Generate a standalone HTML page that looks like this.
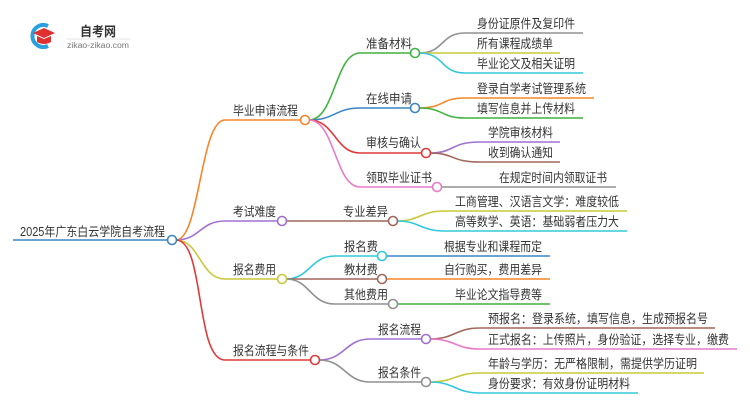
<!DOCTYPE html>
<html><head><meta charset="utf-8"><style>
html,body{margin:0;padding:0;background:#fff;width:750px;height:410px;overflow:hidden}
svg text{font-family:"Liberation Sans","Noto Sans CJK SC",sans-serif;font-size:12.5px;fill:#333}
</style></head><body>
<svg width="750" height="410" viewBox="0 0 750 410" xmlns="http://www.w3.org/2000/svg" fill="none" stroke-width="1.6">
<!-- logo -->
<g>
<path d="M48 26 A11 11 0 1 0 48 46" stroke="#2aa0e0" stroke-width="4" fill="none"/>
<path d="M33 33 L44 28 L55 33 L44 38 Z" fill="#e03030"/>
<path d="M37 36 L37 42 Q44 46 51 42 L51 36 L44 39 Z" fill="#e03030"/>
<text x="80" y="36" style="font-size:13px;font-weight:bold;fill:#333" textLength="36" lengthAdjust="spacingAndGlyphs">自考网</text>
<line x1="66" y1="39" x2="130" y2="39" stroke="#ddd" stroke-width="0.8"/>
<text x="67" y="48" style="font-size:8px;fill:#777" textLength="62" lengthAdjust="spacingAndGlyphs">zikao-zikao.com</text>
</g>

<!-- root -->
<line x1="13" y1="240" x2="167" y2="240" stroke="#3a85c6"/>
<text x="20" y="236" textLength="145" lengthAdjust="spacingAndGlyphs">2025年广东白云学院自考流程</text>

<!-- level1 curves -->
<path d="M176 240 C200 240,200 120,225 120 L300 120" stroke="#f5862a"/>
<path d="M176 240 C200 240,200 221,225 221 L277 221" stroke="#a070d0"/>
<path d="M176 240 C200 240,200 279,225 279 L277 279" stroke="#c8c83a"/>
<path d="M176 240 C205 240,195 360,225 360 L310 360" stroke="#e03a3a"/>
<text x="233" y="115" textLength="65" lengthAdjust="spacingAndGlyphs">毕业申请流程</text>
<text x="233" y="216" textLength="43" lengthAdjust="spacingAndGlyphs">考试难度</text>
<text x="233" y="274" textLength="43" lengthAdjust="spacingAndGlyphs">报名费用</text>
<text x="233" y="355" textLength="76" lengthAdjust="spacingAndGlyphs">报名流程与条件</text>

<!-- under 毕业申请流程 -->
<path d="M309 120 C335 120,335 53,360 53 L411 53" stroke="#3fb23f"/>
<path d="M309 120 C335 120,335 108,360 108 L411 108" stroke="#3a85c6"/>
<path d="M309 120 C335 120,335 153,360 153 L422 153" stroke="#e03a3a"/>
<path d="M309 120 C335 120,335 187,360 187 L433 187" stroke="#e87ac8"/>
<text x="366" y="48" textLength="46" lengthAdjust="spacingAndGlyphs">准备材料</text>
<text x="366" y="103" textLength="46" lengthAdjust="spacingAndGlyphs">在线申请</text>
<text x="366" y="147" textLength="55" lengthAdjust="spacingAndGlyphs">审核与确认</text>
<text x="366" y="182" textLength="66" lengthAdjust="spacingAndGlyphs">领取毕业证书</text>

<path d="M419 53 C445 53,440 33,465 33 L583 33" stroke="#909090"/>
<path d="M419 53 L560 53" stroke="#c8c83a"/>
<path d="M419 53 C445 53,440 73,465 73 L583 73" stroke="#30c8dc"/>
<path d="M419 108 C445 108,440 98,465 98 L594 98" stroke="#f5862a"/>
<path d="M419 108 C445 108,440 118,465 118 L583 118" stroke="#3fb23f"/>
<path d="M430 153 C455 153,450 142,480 142 L560 142" stroke="#a070d0"/>
<path d="M430 153 C455 153,450 162,480 162 L560 162" stroke="#a0665a"/>
<path d="M441 187 L616 187" stroke="#909090"/>
<text x="477" y="28" textLength="98" lengthAdjust="spacingAndGlyphs">身份证原件及复印件</text>
<text x="477" y="48" textLength="76" lengthAdjust="spacingAndGlyphs">所有课程成绩单</text>
<text x="477" y="68" textLength="98" lengthAdjust="spacingAndGlyphs">毕业论文及相关证明</text>
<text x="477" y="93" textLength="109" lengthAdjust="spacingAndGlyphs">登录自学考试管理系统</text>
<text x="477" y="113" textLength="98" lengthAdjust="spacingAndGlyphs">填写信息并上传材料</text>
<text x="488" y="137" textLength="65" lengthAdjust="spacingAndGlyphs">学院审核材料</text>
<text x="488" y="157" textLength="65" lengthAdjust="spacingAndGlyphs">收到确认通知</text>
<text x="499" y="182" textLength="108" lengthAdjust="spacingAndGlyphs">在规定时间内领取证书</text>

<!-- 考试难度 -->
<path d="M286 221 L389 221" stroke="#a0665a"/>
<text x="343" y="216" textLength="45" lengthAdjust="spacingAndGlyphs">专业差异</text>
<path d="M397 221 C420 221,420 211,445 211 L627 211" stroke="#c8c83a"/>
<path d="M397 221 C420 221,420 231,445 231 L627 231" stroke="#30c8dc"/>
<text x="455" y="206" textLength="164" lengthAdjust="spacingAndGlyphs">工商管理、汉语言文学：难度较低</text>
<text x="455" y="226" textLength="164" lengthAdjust="spacingAndGlyphs">高等数学、英语：基础弱者压力大</text>

<!-- 报名费用 -->
<path d="M286 279 C310 279,310 256,335 256 L378 256" stroke="#30c8dc"/>
<path d="M286 279 L378 279" stroke="#a0665a"/>
<path d="M286 279 C310 279,310 304,335 304 L389 304" stroke="#909090"/>
<text x="344" y="251" textLength="34" lengthAdjust="spacingAndGlyphs">报名费</text>
<text x="344" y="274" textLength="34" lengthAdjust="spacingAndGlyphs">教材费</text>
<text x="344" y="299" textLength="44" lengthAdjust="spacingAndGlyphs">其他费用</text>
<path d="M386 256 L550 256" stroke="#3a85c6"/>
<path d="M386 279 L550 279" stroke="#f5862a"/>
<path d="M397 304 L550 304" stroke="#3fb23f"/>
<text x="444" y="251" textLength="98" lengthAdjust="spacingAndGlyphs">根据专业和课程而定</text>
<text x="444" y="274" textLength="98" lengthAdjust="spacingAndGlyphs">自行购买，费用差异</text>
<text x="455" y="299" textLength="87" lengthAdjust="spacingAndGlyphs">毕业论文指导费等</text>

<!-- 报名流程与条件 -->
<path d="M319 360 C345 360,345 339,370 339 L422 339" stroke="#a070d0"/>
<path d="M319 360 C345 360,345 382,370 382 L422 382" stroke="#909090"/>
<text x="378" y="334" textLength="43" lengthAdjust="spacingAndGlyphs">报名流程</text>
<text x="378" y="377" textLength="43" lengthAdjust="spacingAndGlyphs">报名条件</text>
<path d="M430 339 C455 339,455 328,480 328 L715 328" stroke="#a0665a"/>
<path d="M430 339 C455 339,455 349,480 349 L737 349" stroke="#e87ac8"/>
<path d="M430 382 C455 382,455 373,480 373 L704 373" stroke="#c8c83a"/>
<path d="M430 382 C455 382,455 393,480 393 L638 393" stroke="#30c8dc"/>
<text x="488" y="323" textLength="220" lengthAdjust="spacingAndGlyphs">预报名：登录系统，填写信息，生成预报名号</text>
<text x="488" y="344" textLength="241" lengthAdjust="spacingAndGlyphs">正式报名：上传照片，身份验证，选择专业，缴费</text>
<text x="488" y="368" textLength="209" lengthAdjust="spacingAndGlyphs">年龄与学历：无严格限制，需提供学历证明</text>
<text x="488" y="388" textLength="142" lengthAdjust="spacingAndGlyphs">身份要求：有效身份证明材料</text>

<!-- circles -->
<g fill="#fff" stroke-width="1.6">
<circle cx="172" cy="240" r="4.5" stroke="#3a85c6"/>
<circle cx="305" cy="120" r="4.5" stroke="#f5862a"/>
<circle cx="282" cy="221" r="4.5" stroke="#a070d0"/>
<circle cx="282" cy="279" r="4.5" stroke="#c8c83a"/>
<circle cx="315" cy="360" r="4.5" stroke="#e03a3a"/>
<circle cx="415" cy="53" r="4.5" stroke="#3fb23f"/>
<circle cx="415" cy="108" r="4.5" stroke="#3a85c6"/>
<circle cx="426" cy="153" r="4.5" stroke="#e03a3a"/>
<circle cx="437" cy="187" r="4.5" stroke="#e87ac8"/>
<circle cx="393" cy="221" r="4.5" stroke="#a0665a"/>
<circle cx="382" cy="256" r="4.5" stroke="#30c8dc"/>
<circle cx="382" cy="279" r="4.5" stroke="#a0665a"/>
<circle cx="393" cy="304" r="4.5" stroke="#909090"/>
<circle cx="426" cy="339" r="4.5" stroke="#a070d0"/>
<circle cx="426" cy="382" r="4.5" stroke="#909090"/>
</g>
</svg>
</body></html>
